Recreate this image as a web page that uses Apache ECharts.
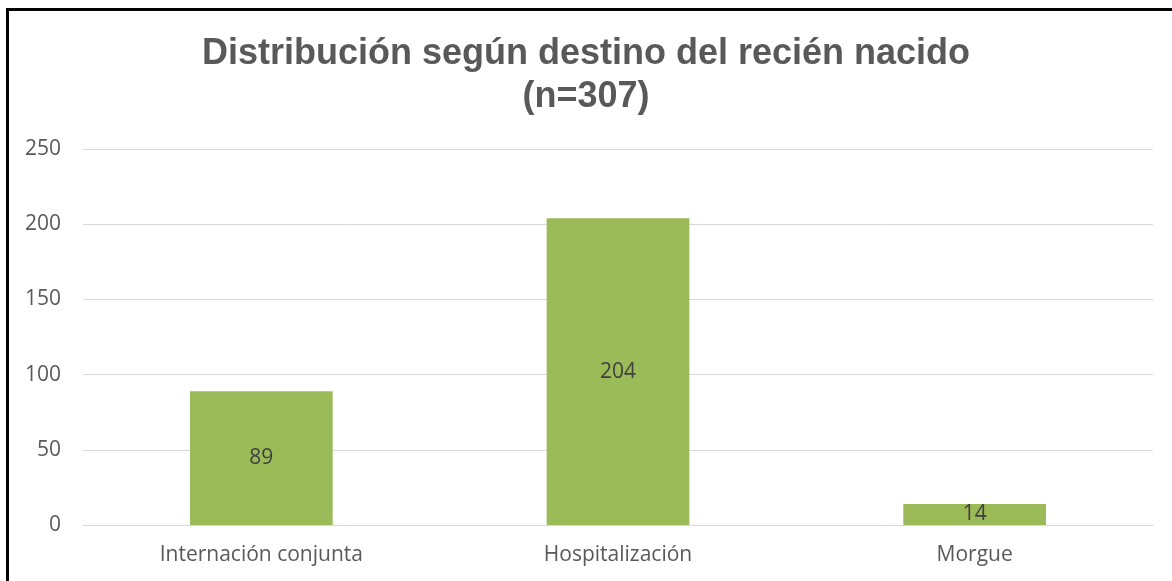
<!DOCTYPE html>
<html>
<head>
<meta charset="utf-8">
<script src="https://cdn.jsdelivr.net/npm/echarts@6/dist/echarts.min.js"></script>
<style>
html, body { margin: 0; padding: 0; background: #fff; }
#frame { position: absolute; left: 6px; top: 8px; width: 1200px; height: 600px; border-left: 3px solid #000; border-top: 3px solid #000; }
#chart { position: absolute; left: 0; top: 0; width: 1172px; height: 581px; }
</style>
</head>
<body>
<div id="frame"></div>
<div id="chart"></div>
<script>
var categories = ['Internación conjunta', 'Hospitalización', 'Morgue'];
var values = [89, 204, 14];
var yTicks = { min: 0, max: 250, step: 50 };

var myChart = echarts.init(document.getElementById('chart'));
myChart.setOption({
	title: {
		text: 'Distribución según destino del recién nacido\n(n=307)',
		left: 'center',
		top: 28,
		textStyle: {
			fontFamily: 'Liberation Sans, Arial, sans-serif',
			fontWeight: 'bold',
			fontSize: 36,
			lineHeight: 43,
			color: '#595959'
		}
	},
	grid: { left: 83, right: 19, top: 149, bottom: 56 },
	xAxis: {
		type: 'category',
		data: categories,
		axisLine: { lineStyle: { color: '#d9d9d9', width: 1 } },
		axisTick: { show: false },
		axisLabel: { fontFamily: 'Open Sans, sans-serif', fontSize: 21, color: '#595959', margin: 20 }
	},
	yAxis: {
		type: 'value',
		min: yTicks.min,
		max: yTicks.max,
		interval: yTicks.step,
		axisLine: { show: false },
		axisTick: { show: false },
		splitLine: { lineStyle: { color: '#d9d9d9', width: 1 } },
		axisLabel: { fontFamily: 'Open Sans, sans-serif', fontSize: 21, color: '#595959', margin: 22 }
	},
	series: [{
		type: 'bar',
		data: values,
		barWidth: '40%',
		itemStyle: { color: '#9bbb59' },
		label: {
			show: true,
			position: 'inside',
			fontFamily: 'Open Sans, sans-serif',
			fontSize: 21,
			color: '#404040'
		}
	}]
});
</script>
</body>
</html>
